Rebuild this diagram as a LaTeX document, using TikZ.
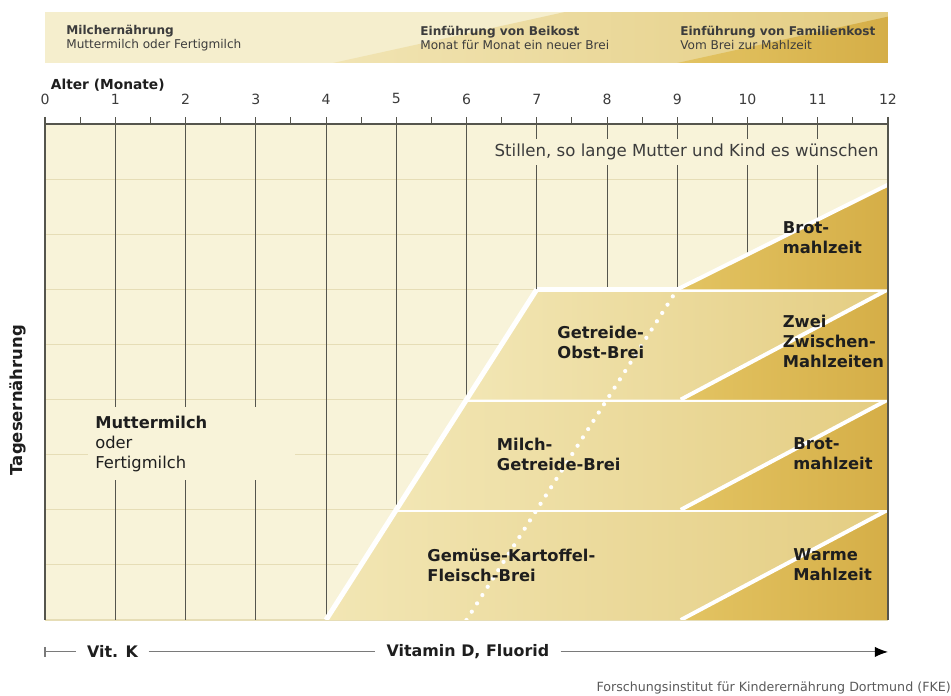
\documentclass[tikz,border=0pt]{standalone}
\usepackage{fontspec}
\setmainfont{DejaVu Sans}
\usetikzlibrary{arrows.meta}

\definecolor{headbg}{HTML}{F5EECD}
\definecolor{headmid}{HTML}{F1E4B3}
\definecolor{chartbg}{HTML}{F8F3D9}
\definecolor{gridfaint}{HTML}{E6DDB6}
\definecolor{linegray}{HTML}{55554D}
\definecolor{arrowgray}{HTML}{7A7A7A}
\definecolor{breilight}{HTML}{F2E6B4}
\definecolor{breidark}{HTML}{E4CD82}
\definecolor{kostlight}{HTML}{E3C463}
\definecolor{kostdark}{HTML}{D5AE47}
\definecolor{labeltext}{HTML}{1E1E1E}
\definecolor{softtext}{HTML}{3C3C3C}
\definecolor{footgray}{HTML}{5A5A5A}

\begin{document}
\begin{tikzpicture}[x=1.75625cm,y=1.3775cm,
    monthline/.style={draw=linegray,line width=0.6pt},
    faintline/.style={draw=gridfaint,line width=0.8pt},
    brei/.style={left color=breilight,right color=breidark},
    kost/.style={left color=kostlight,right color=kostdark},
    bandline/.style={white,line width=3.6pt},
    kostline/.style={white,line width=2.8pt},
    vitline/.style={arrowgray,line width=0.8pt},
    headtext/.style={anchor=west,align=left,inner sep=0pt,text=softtext,font=\fontsize{8.6pt}{10pt}\selectfont},
    label/.style={anchor=west,align=left,inner sep=0pt,text=labeltext,font=\fontsize{11.6pt}{14.2pt}\selectfont\bfseries}]
    \useasboundingbox (-0.6406,-1.379) rectangle (12.897,11.252);

    \fill[headbg] (0,10.109) rectangle (12,11.034);
    \shade[left color=headmid,right color=breidark] (4.1,10.109) -- (7.4,11.034) -- (12,11.034) -- (12,10.109) -- cycle;
    \shade[kost] (9,10.109) -- (12,10.95) -- (12,10.109) -- cycle;
    \node[headtext] (milch) at (0.3,10.566) {\textbf{Milchernährung}\\Muttermilch oder Fertigmilch};
    \node[headtext] (beikost) at (5.34,10.566) {\textbf{Einführung von Beikost}\\Monat für Monat ein neuer Brei};
    \node[headtext] (familie) at (9.04,10.566) {\textbf{Einführung von Familienkost}\\Vom Brei zur Mahlzeit};

    \node[anchor=west,inner sep=0pt,text=labeltext,font=\fontsize{9.8pt}{12pt}\selectfont\bfseries] (alter) at (0.08,9.71) {Alter (Monate)};
    \foreach \m in {0,...,12}
        \node[text=softtext,font=\fontsize{10pt}{12pt}\selectfont] (num\m) at (\m,9.456) {\m};

    \fill[chartbg] (0,0) rectangle (12,9);
    \foreach \r in {0,...,8}
        \draw[faintline] (0,\r) -- (12,\r);
    \foreach \m in {1,...,11}
        \draw[monthline] (\m,9) -- (\m,0);

    \begin{scope}
        \clip (0,0) rectangle (12,9);
        \foreach \b in {0,1,2} {
            \shade[brei] (4+\b,2*\b) -- (5+\b,2*\b+2) -- (12,2*\b+2) -- (12,2*\b) -- cycle;
            \shade[kost] (9.05,2*\b) -- (12,2*\b+2) -- (12,2*\b) -- cycle;
            \draw[kostline] (9.05,2*\b) -- (12,2*\b+2);
            \draw[bandline] (5+\b,2*\b+2) -- (12,2*\b+2);
        }
        \shade[kost] (9,6) -- (12,7.9) -- (12,6) -- cycle;
        \draw[kostline] (9,6) -- (12,7.9);
        \draw[bandline] (4,0) -- (7,6);
        \draw[white,line width=3pt,line cap=round,dash pattern=on 0pt off 7pt] (6,0) -- (9,6);
    \end{scope}

    \node[fill=chartbg,anchor=east,inner xsep=4pt,inner ysep=3.4pt,text=softtext,font=\fontsize{11.8pt}{14pt}\selectfont] (stillen) at (11.95,8.49) {Stillen, so lange Mutter und Kind es wünschen};
    \node[fill=chartbg,anchor=west,align=left,text width=4.8cm,minimum height=1.825cm,inner xsep=0.18cm,inner ysep=0pt,text=labeltext,font=\fontsize{11.6pt}{14.2pt}\selectfont] (mutter) at (0.61,3.2) {\textbf{Muttermilch}\\oder\\Fertigmilch};

    \foreach \m in {0.5,1,...,11.5}
        \draw[monthline] (\m,9) -- (\m,9.13);
    \draw[linegray,line width=0.9pt] (0,9.13) -- (0,0) (12,9.13) -- (12,0) (0,9) -- (12,9);

    \node[label] (gob) at (7.29,5.03) {Getreide-\\Obst-Brei};
    \node[label] (mgb) at (6.43,3.01) {Milch-\\Getreide-Brei};
    \node[label] (gkf) at (5.44,1.0) {Gemüse-Kartoffel-\\Fleisch-Brei};
    \node[label] (brot) at (10.5,6.93) {Brot-\\mahlzeit};
    \node[label] (zwei) at (10.5,5.06) {Zwei\\Zwischen-\\Mahlzeiten};
    \node[label] (brotb) at (10.65,3.01) {Brot-\\mahlzeit};
    \node[label] (warme) at (10.65,1.0) {Warme\\Mahlzeit};

    \node[rotate=90,text=labeltext,font=\fontsize{11.7pt}{14pt}\selectfont\bfseries] (tages) at (-0.384,3.99) {Tagesernährung};

    \coordinate (vstart) at (0,-0.58);
    \coordinate (vend) at (12,-0.58);
    \node[inner xsep=7.5pt,text=labeltext,font=\fontsize{11.3pt}{14pt}\selectfont\bfseries] (vitk) at (0.96,-0.58) {Vit. K};
    \node[inner xsep=8pt,text=labeltext,font=\fontsize{11.3pt}{14pt}\selectfont\bfseries] (vitd) at (6.02,-0.58) {Vitamin D, Fluorid};
    \draw[vitline] (0,-0.49) -- (0,-0.67);
    \draw[vitline] (vstart) -- (vitk);
    \draw[vitline] (vitk) -- (vitd);
    \draw[vitline,-{Latex[length=3.3mm,width=2.6mm,color=black]}] (vitd) -- (vend);

    \node[anchor=east,inner sep=0pt,text=footgray,font=\fontsize{9pt}{11pt}\selectfont] (fke) at (12.897,-1.234) {Forschungsinstitut für Kinderernährung Dortmund (FKE)};
\end{tikzpicture}
\end{document}
